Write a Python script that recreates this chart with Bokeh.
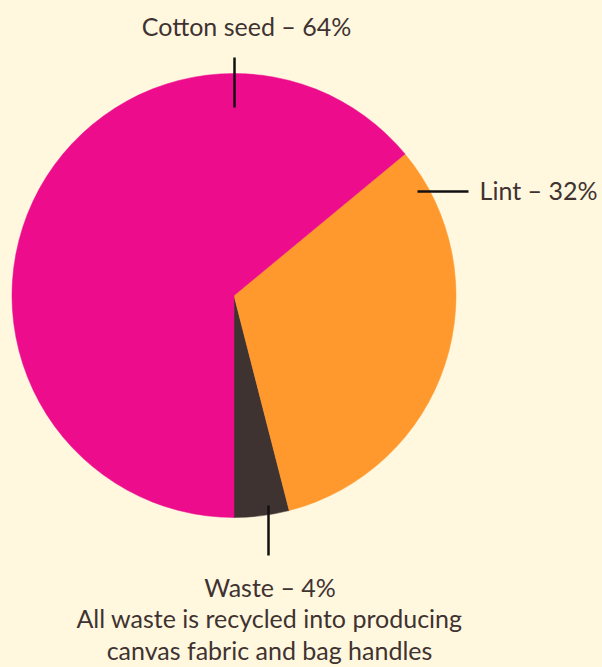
import math
from bokeh.plotting import figure
from bokeh.models import Range1d, ColumnDataSource
from bokeh.core.properties import value
from bokeh.embed import file_html
from bokeh.resources import INLINE

# ---- data ----
categories = ["Waste", "Lint", "Cotton seed"]
shares = [4, 32, 64]
colors = ["#3F3331", "#FF992E", "#EC0C8C"]
labels = ["Waste – 4%", "Lint – 32%", "Cotton seed – 64%"]
note_lines = ["All waste is recycled into producing", "canvas fabric and bag handles"]

BG = "#FFF8DF"
TXT = "#3F3331"
FONT = "Lato"
FS = "25px"
H = 667  # window height, used to map screen y to data y
DY = 11  # baseline correction for the font

# cumulative angles, start pointing straight down, going counter-clockwise
total = sum(shares)
starts, ends = [], []
acc = -math.pi / 2
for s in shares:
    a = 2 * math.pi * s / total
    starts.append(acc)
    ends.append(acc + a)
    acc += a

p = figure(width=594, height=659, output_backend="svg", toolbar_location=None,
           x_range=Range1d(8, 602), y_range=Range1d(0, 659),
           min_border=0, outline_line_color=None)
p.axis.visible = False
p.grid.visible = False
p.background_fill_color = BG
p.border_fill_color = BG

cx, cy, r = 233.5, H - 295, 222
src = ColumnDataSource(dict(cat=categories, share=shares, color=colors,
                            start=starts, end=ends))
p.wedge(x=cx, y=cy, radius=r, start_angle="start", end_angle="end",
        fill_color="color", line_color="color", line_width=0.5, source=src)

# leader lines
p.segment(x0=[234, 417, 268], y0=[H - 57, H - 191, H - 505],
          x1=[234, 468, 268], y1=[H - 107, H - 191, H - 555],
          line_color="#111111", line_width=2.5)

def label(x, ys, texts, align):
    p.text(x=[x] * len(ys), y=[H - (y - DY) for y in ys], text=texts,
           text_font=value(FONT), text_font_size=FS, text_color=TXT,
           text_align=align, text_baseline="alphabetic")

label(246, [36], [labels[2]], "center")
label(597, [200], [labels[1]], "right")
label(269.5, [597], [labels[0]], "center")
label(269, [628, 660], note_lines, "center")

html = file_html(p, INLINE, title="Cotton")
html = html.replace("<body>", '<body style="margin:8px 0 0 8px;background-color:%s;">' % BG)
open("out.html", "w").write(html)
